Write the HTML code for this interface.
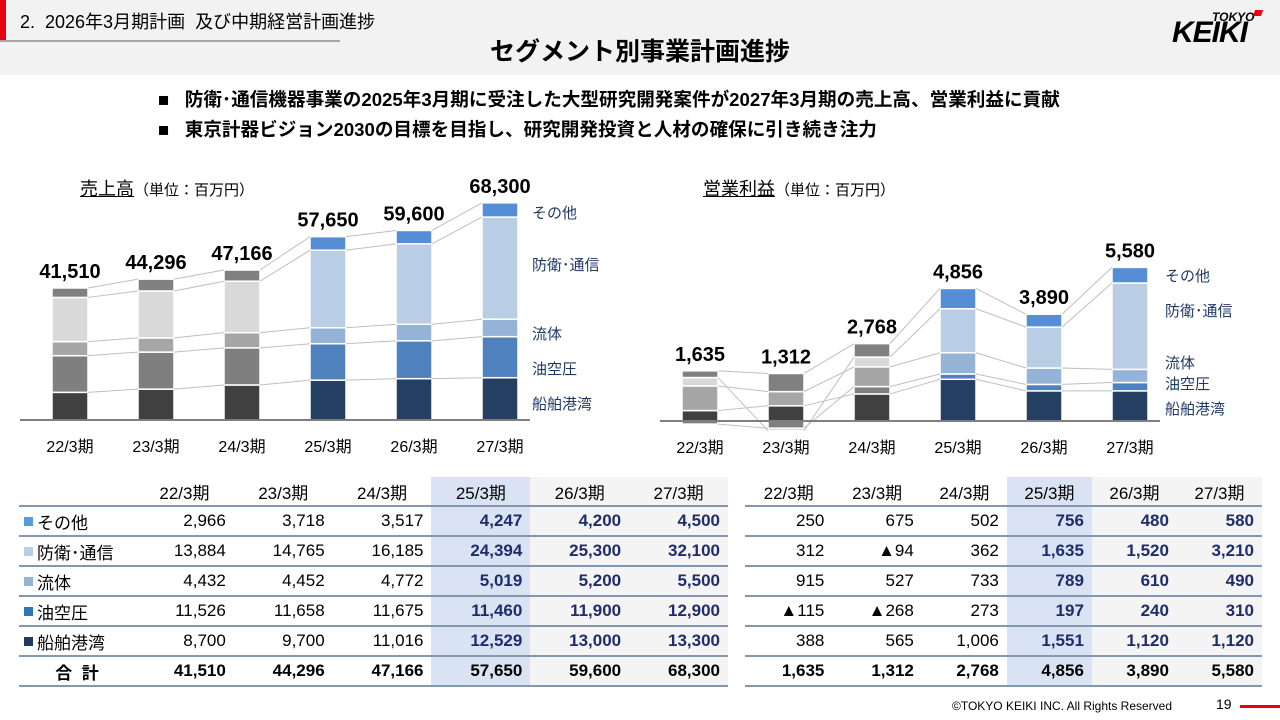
<!DOCTYPE html>
<html><head><meta charset="utf-8">
<style>
body{margin:0;width:1280px;height:720px;overflow:hidden;background:#fff;font-family:"Liberation Sans","Noto Sans CJK JP",sans-serif;position:relative}
.abs{position:absolute;white-space:nowrap}
table{border-collapse:collapse;position:absolute;font-size:17px}
td{height:28px;padding:0 8px 0 0;text-align:right;border-bottom:2px solid #8497b0}
tr.h td{text-align:center;padding:0;border-bottom:2px solid #8497b0}
td.hl{background:#dae3f3}
td.g{background:#f4f4f4}
td.f{color:#1f2d6b;font-weight:bold}
tr.t td{font-weight:bold;color:#000}
td.lab{text-align:left;padding-left:18px;position:relative}
td.lab i{position:absolute;left:5px;top:10px;width:9px;height:9px}
</style></head><body>
<div class="abs" style="left:0;top:0;width:1280px;height:75px;background:#f2f2f2"></div>
<div class="abs" style="left:0;top:0;width:6px;height:41px;background:#e60012"></div>
<div class="abs" style="left:0;top:40px;width:340px;height:2px;background:#a6a6a6"></div>
<div class="abs" style="left:20px;top:8px;font-size:18px;color:#000">2.&nbsp; 2026年3月期計画&nbsp; 及び中期経営計画進捗</div>
<div class="abs" style="left:0;width:1280px;text-align:center;top:32px;font-size:25px;font-weight:bold">セグメント別事業計画進捗</div>
<div class="abs" style="left:1170px;top:8px;width:92px;height:40px">
 <div class="abs" style="left:42px;top:2px;font-size:12px;font-weight:bold;font-style:italic">TOKYO</div>
 <div class="abs" style="left:84px;top:2px;width:8px;height:6px;background:#e60012;transform:skewX(-20deg)"></div>
 <div class="abs" style="left:2px;top:10px;font-size:30px;font-weight:900;font-style:italic;letter-spacing:-1px;line-height:30px">KEIKI</div>
</div>
<div class="abs" style="left:158px;top:85px;font-size:18.6px;font-weight:bold">■&nbsp;&nbsp; 防衛･通信機器事業の2025年3月期に受注した大型研究開発案件が2027年3月期の売上高、営業利益に貢献</div>
<div class="abs" style="left:158px;top:115px;font-size:18.6px;font-weight:bold">■&nbsp;&nbsp; 東京計器ビジョン2030の目標を目指し、研究開発投資と人材の確保に引き続き注力</div>
<div class="abs" style="left:80px;top:175px;font-size:18px"><span style="text-decoration:underline">売上高</span><span style="font-size:15px">（単位：百万円）</span></div>
<div class="abs" style="left:703px;top:175px;font-size:18px"><span style="text-decoration:underline">営業利益</span><span style="font-size:15px">（単位：百万円）</span></div>
<svg id="ch" class="abs" style="left:0;top:0" width="1280" height="470"></svg>

<table style="left:19px;top:477px;width:709px">
<tr class="h"><td style="width:116px"></td><td>22/3期</td><td>23/3期</td><td>24/3期</td><td class="hl">25/3期</td><td class="g">26/3期</td><td class="g">27/3期</td></tr>
<tr><td class="lab"><i style="background:#5b9bd5"></i>その他</td><td>2,966</td><td>3,718</td><td>3,517</td><td class="hl f">4,247</td><td class="g f">4,200</td><td class="g f">4,500</td></tr>
<tr><td class="lab"><i style="background:#b9cde5"></i>防衛･通信</td><td>13,884</td><td>14,765</td><td>16,185</td><td class="hl f">24,394</td><td class="g f">25,300</td><td class="g f">32,100</td></tr>
<tr><td class="lab"><i style="background:#95b3d7"></i>流体</td><td>4,432</td><td>4,452</td><td>4,772</td><td class="hl f">5,019</td><td class="g f">5,200</td><td class="g f">5,500</td></tr>
<tr><td class="lab"><i style="background:#2e75b6"></i>油空圧</td><td>11,526</td><td>11,658</td><td>11,675</td><td class="hl f">11,460</td><td class="g f">11,900</td><td class="g f">12,900</td></tr>
<tr><td class="lab"><i style="background:#1f3864"></i>船舶港湾</td><td>8,700</td><td>9,700</td><td>11,016</td><td class="hl f">12,529</td><td class="g f">13,000</td><td class="g f">13,300</td></tr>
<tr class="t"><td style="text-align:center;padding:0">合&nbsp; 計</td><td>41,510</td><td>44,296</td><td>47,166</td><td class="hl">57,650</td><td class="g">59,600</td><td class="g">68,300</td></tr>
</table>
<table style="left:745px;top:477px;width:517px">
<tr class="h"><td>22/3期</td><td>23/3期</td><td>24/3期</td><td class="hl">25/3期</td><td class="g">26/3期</td><td class="g">27/3期</td></tr>
<tr><td>250</td><td>675</td><td>502</td><td class="hl f">756</td><td class="g f">480</td><td class="g f">580</td></tr>
<tr><td>312</td><td>▲94</td><td>362</td><td class="hl f">1,635</td><td class="g f">1,520</td><td class="g f">3,210</td></tr>
<tr><td>915</td><td>527</td><td>733</td><td class="hl f">789</td><td class="g f">610</td><td class="g f">490</td></tr>
<tr><td>▲115</td><td>▲268</td><td>273</td><td class="hl f">197</td><td class="g f">240</td><td class="g f">310</td></tr>
<tr><td>388</td><td>565</td><td>1,006</td><td class="hl f">1,551</td><td class="g f">1,120</td><td class="g f">1,120</td></tr>
<tr class="t"><td>1,635</td><td>1,312</td><td>2,768</td><td class="hl">4,856</td><td class="g">3,890</td><td class="g">5,580</td></tr>
</table>
<div class="abs" style="left:952px;top:699px;font-size:12px">©TOKYO KEIKI INC. All Rights Reserved</div>
<div class="abs" style="left:1216px;top:696px;font-size:14px">19</div>
<div class="abs" style="left:1240px;top:705px;width:40px;height:3px;background:#e60012"></div>
<script>
const periods=["22/3期","23/3期","24/3期","25/3期","26/3期","27/3期"];
const segments=["船舶港湾","油空圧","流体","防衛･通信","その他"];
const salesMarine=[8700,9700,11016,12529,13000,13300];
const salesHyd=[11526,11658,11675,11460,11900,12900];
const salesFluid=[4432,4452,4772,5019,5200,5500];
const salesDef=[13884,14765,16185,24394,25300,32100];
const salesOther=[2966,3718,3517,4247,4200,4500];
const salesTotal=["41,510","44,296","47,166","57,650","59,600","68,300"];
const profMarine=[388,565,1006,1551,1120,1120];
const profHyd=[-115,-268,273,197,240,310];
const profFluid=[915,527,733,789,610,490];
const profDef=[312,-94,362,1635,1520,3210];
const profOther=[250,675,502,756,480,580];
const profTotal=["1,635","1,312","2,768","4,856","3,890","5,580"];
const grayC=["#404040","#7f7f7f","#a6a6a6","#d9d9d9","#808080"];
const blueC=["#253f62","#4f81bd","#95b3d7","#b9cde5","#558ed5"];
const svg=document.getElementById('ch');
const NS="http://www.w3.org/2000/svg";
function mk(t,a){const e=document.createElementNS(NS,t);for(const k in a)e.setAttribute(k,a[k]);svg.appendChild(e);return e;}
function chart(cfg){
 const xOf=i=>cfg.x0+i*cfg.pitch, yOf=v=>cfg.base-v*cfg.scale, w=36;
 const series=cfg.series;
 const tops=[];
 for(let i=0;i<periods.length;i++){
  let pos=0,neg=0;const t=[];
  series.forEach((s,k)=>{
   const v=s[i];let y0,y1;
   if(v>=0){y0=pos;y1=pos+v;pos=y1;}else{y0=neg;y1=neg+v;neg=y1;}
   const r=mk('rect',{x:xOf(i)-w/2,y:Math.min(yOf(y0),yOf(y1)),width:w,height:Math.abs(yOf(y1)-yOf(y0)),fill:(i<3?grayC:blueC)[k],stroke:'#fff','stroke-width':1.5});
   
   
   t.push(yOf(y1));
  });
  tops.push(t);
  const lb=mk('text',{x:xOf(i),y:yOf(pos)-10,'text-anchor':'middle','font-size':20,'font-weight':'bold','font-family':'Liberation Sans, sans-serif'});
  lb.textContent=cfg.totals[i];
  
  
  const xl=mk('text',{x:xOf(i),y:cfg.base+32,'text-anchor':'middle','font-size':16,'font-family':'Liberation Sans, Noto Sans CJK JP, sans-serif'});
  xl.textContent=periods[i];
  
  
 }
 for(let i=0;i<periods.length-1;i++)for(let k=0;k<series.length;k++){
  const l=mk('line',{x1:xOf(i)+w/2,y1:tops[i][k],x2:xOf(i+1)-w/2,y2:tops[i+1][k],stroke:'#bfbfbf','stroke-width':1});
  
  
 }
 const ax=mk('line',{x1:cfg.ax1,y1:cfg.base,x2:cfg.ax2,y2:cfg.base,stroke:'#7f7f7f','stroke-width':2});
 
 
 cfg.legendY.forEach((y,k)=>{
  const t=mk('text',{x:cfg.legX,y:y,'font-size':15,fill:'#1f3864','font-family':'Liberation Sans, Noto Sans CJK JP, sans-serif'});
  t.textContent=segments[k];
  
  
 });
}
chart({name:'sales',x0:70,pitch:86,base:420,scale:0.00318,ax1:20,ax2:530,legX:532,
 series:[salesMarine,salesHyd,salesFluid,salesDef,salesOther],totals:salesTotal,legendY:[409,374,339,270,218]});
chart({name:'profit',x0:700,pitch:86,base:421,scale:0.0269,ax1:660,ax2:1160,legX:1165,
 series:[profMarine,profHyd,profFluid,profDef,profOther],totals:profTotal,legendY:[414,389,368,316,281]});
</script>
</body></html>
